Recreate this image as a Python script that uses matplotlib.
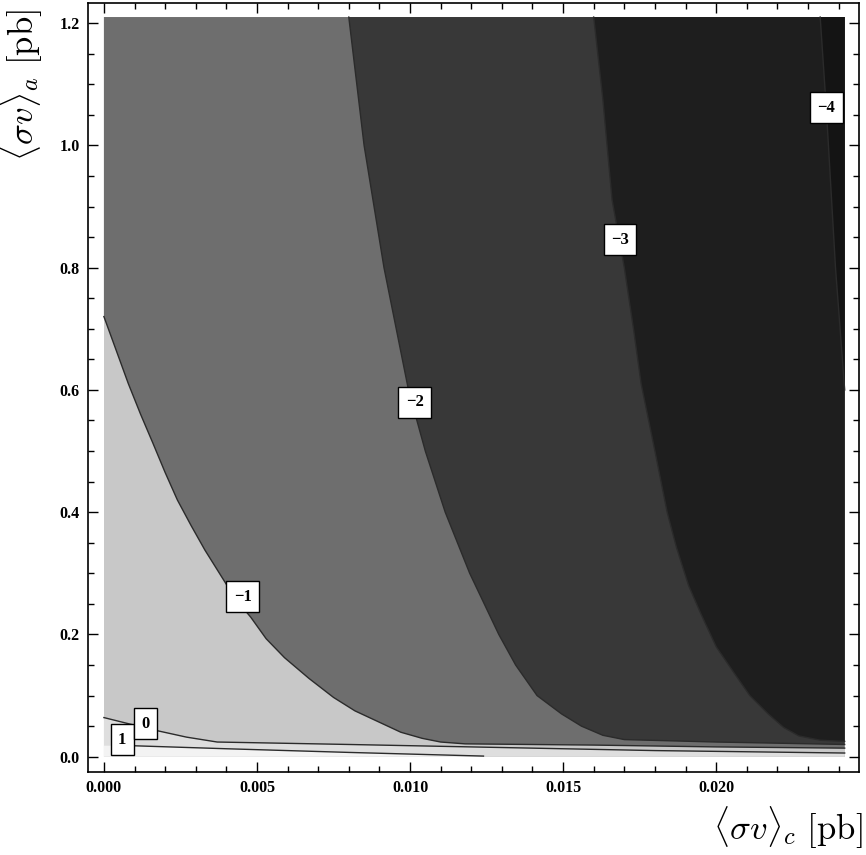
import numpy as np
import matplotlib
matplotlib.use("Agg")
import matplotlib.pyplot as plt
from matplotlib.ticker import MultipleLocator

plt.rcParams['mathtext.fontset'] = 'cm'

# plot range of the filled region
x_max = 0.0242
y_max = 1.21

# contour lines, (x, y) in data units
c1_x = [0.0009, 0.0040, 0.0080, 0.0124]
c1_y = [0.018, 0.013, 0.007, 0.001]

c0_x = [0.0, 0.0008, 0.0017, 0.0027, 0.0037, 0.0080, 0.0120, 0.0180, 0.0242]
c0_y = [0.064, 0.054, 0.043, 0.032, 0.024, 0.020, 0.016, 0.010, 0.006]

cm1_x = [0.0, 0.0004, 0.0008, 0.0012, 0.0016, 0.0020, 0.0024, 0.00285, 0.0033,
         0.0039, 0.0043, 0.0048, 0.0053, 0.0059, 0.0067, 0.0075, 0.0082, 0.0091,
         0.0097, 0.0104, 0.0110, 0.0118, 0.0160, 0.0200, 0.0242]
cm1_y = [0.720, 0.665, 0.610, 0.560, 0.513, 0.465, 0.420, 0.378, 0.338,
         0.290, 0.258, 0.228, 0.193, 0.162, 0.128, 0.097, 0.075, 0.054,
         0.040, 0.030, 0.024, 0.021, 0.019, 0.016, 0.014]

cm2_x = [0.0080, 0.0085, 0.00915, 0.00995, 0.0105, 0.01115, 0.01195, 0.0129,
         0.01345, 0.01415, 0.01495, 0.0156, 0.0163, 0.0170, 0.0200, 0.0242]
cm2_y = [1.210, 1.000, 0.800, 0.600, 0.500, 0.400, 0.300, 0.200,
         0.150, 0.100, 0.070, 0.050, 0.035, 0.028, 0.024, 0.020]

cm3_x = [0.0160, 0.0163, 0.0166, 0.0170, 0.0173, 0.01755, 0.0180, 0.0184, 0.0187,
         0.0191, 0.0195, 0.0200, 0.0206, 0.0211, 0.0217, 0.0222, 0.0227, 0.0234,
         0.0242]
cm3_y = [1.210, 1.075, 0.911, 0.800, 0.700, 0.610, 0.500, 0.400, 0.343,
         0.280, 0.234, 0.180, 0.136, 0.100, 0.070, 0.048, 0.034, 0.027,
         0.025]

cm4_x = [0.0234, 0.0236, 0.0239, 0.0242]
cm4_y = [1.210, 1.060, 0.800, 0.600]

# contour labels
lab_text = ['1', '0', '\u22121', '\u22122', '\u22123', '\u22124']
lab_x = [0.0006, 0.00137, 0.00454, 0.01016, 0.01686, 0.0236]
lab_y = [0.028, 0.054, 0.262, 0.580, 0.846, 1.062]

# region shades
col_light = '#c8c8c8'   # -1 .. 0
col_mid = '#6e6e6e'     # -2 .. -1
col_dark = '#383838'    # -3 .. -2
col_darker = '#1e1e1e'  # -4 .. -3
col_darkest = '#141414' # < -4
col_pos = '#dedede'     # 0 .. 1
col_top = '#f3f3f3'     # > 1
line_col = '#2b2b2b'


def right_of(cx, cy):
    xs = list(cx) + [x_max, cx[0]]
    ys = list(cy) + [y_max, y_max]
    return xs, ys


fig = plt.figure(figsize=(8.66, 8.55), dpi=100)
ax = fig.add_axes([0.1016, 0.0971, 0.8904, 0.8994])

ax.fill([0, x_max, x_max, 0], [0, 0, y_max, y_max], color=col_light, lw=0)
for (cx, cy), col in [((cm1_x, cm1_y), col_mid), ((cm2_x, cm2_y), col_dark),
                      ((cm3_x, cm3_y), col_darker), ((cm4_x, cm4_y), col_darkest)]:
    xs, ys = right_of(cx, cy)
    ax.fill(xs, ys, color=col, lw=0)

ax.fill(list(c0_x) + [x_max, 0], list(c0_y) + [0, 0], color=col_pos, lw=0)
ax.fill(list(c1_x) + [c1_x[-1], 0, 0], list(c1_y) + [0, 0, c1_y[0]], color=col_top, lw=0)

for cx, cy in [(c1_x, c1_y), (c0_x, c0_y), (cm1_x, cm1_y), (cm2_x, cm2_y),
               (cm3_x, cm3_y), (cm4_x, cm4_y)]:
    ax.plot(cx, cy, color=line_col, lw=1.0)

for t, lx, ly in zip(lab_text, lab_x, lab_y):
    ax.text(lx, ly, t, ha='center', va='center', fontsize=12, fontweight='bold',
            family='Liberation Serif',
            bbox=dict(boxstyle='square,pad=0.45', fc='white', ec='black', lw=1.0))

ax.set_xlim(-0.00052, 0.02467)
ax.set_ylim(-0.025, 1.233)

ax.set_xticks([0, 0.005, 0.010, 0.015, 0.020])
ax.set_xticklabels(['0.000', '0.005', '0.010', '0.015', '0.020'])
ax.set_yticks([0.0, 0.2, 0.4, 0.6, 0.8, 1.0, 1.2])
ax.set_yticklabels(['0.0', '0.2', '0.4', '0.6', '0.8', '1.0', '1.2'])
ax.xaxis.set_minor_locator(MultipleLocator(0.001))
ax.yaxis.set_minor_locator(MultipleLocator(0.05))
ax.tick_params(which='both', direction='in', top=True, right=True, width=1.0)
ax.tick_params(which='major', length=7, pad=6)
ax.tick_params(which='minor', length=4)
for lbl in ax.get_xticklabels() + ax.get_yticklabels():
    lbl.set_family('Liberation Serif')
    lbl.set_fontsize(11.5)
    lbl.set_fontweight('bold')
for sp in ax.spines.values():
    sp.set_linewidth(1.2)

ax.set_xlabel(r'$\langle\sigma v\rangle_c\ [\mathrm{pb}]$', fontsize=25, ha='right', va='center')
ax.xaxis.set_label_coords(1.004, -0.073)
ax.set_ylabel(r'$\langle\sigma v\rangle_a\ [\mathrm{pb}]$', fontsize=25, ha='center', va='center')
ax.yaxis.set_label_coords(-0.086, 0.893)

fig.savefig('out.png', dpi=100)
